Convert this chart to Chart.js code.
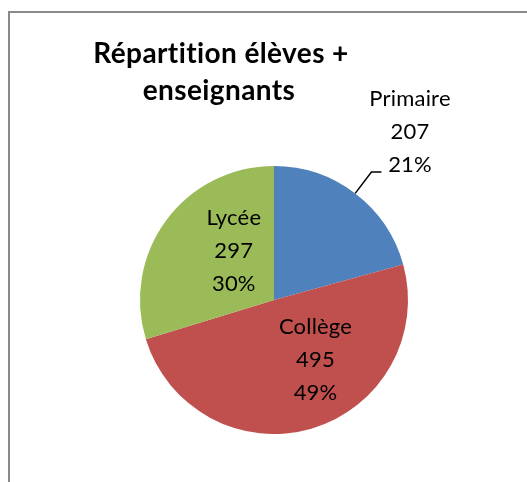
<!DOCTYPE html>
<html>
<head>
<meta charset="utf-8">
<script src="https://cdn.jsdelivr.net/npm/chart.js@4"></script>
<style>
  html, body { margin: 0; padding: 0; background: #fff; }
  #wrap { position: relative; width: 527px; height: 482px; }
</style>
</head>
<body>
<div id="wrap"><canvas id="pieChart" width="527" height="482"></canvas></div>
<script>
// donnees du graphique
const categories = ['Primaire', 'Collège', 'Lycée'];
const effectifs = [207, 495, 297];
const pourcentages = ['21%', '49%', '30%'];
const titre = ['Répartition élèves +', 'enseignants'];
const couleurs = ['#4F81BD', '#C0504D', '#9BBB59'];

// position des etiquettes (en rayons, par rapport au centre)
const posEtiquettes = [
    { dx: 1.015, dy: -1.2, dehors: true },
    { dx: 0.31, dy: 0.50 },
    { dx: -0.30, dy: -0.31 }
];

const cadreEtTexte = {
    id: 'cadreEtTexte',
    beforeDraw(chart) {
        const ctx = chart.ctx;
        ctx.save();
        ctx.strokeStyle = '#8a8a8a';
        ctx.lineWidth = 2;
        ctx.beginPath();
        ctx.moveTo(9, 482);
        ctx.lineTo(9, 12);
        ctx.lineTo(527, 12);
        ctx.stroke();
        ctx.restore();
    },
    afterDatasetsDraw(chart) {
        const ctx = chart.ctx;
        const meta = chart.getDatasetMeta(0);
        ctx.save();
        ctx.fillStyle = '#000';
        ctx.textAlign = 'center';
        ctx.textBaseline = 'alphabetic';

        // titre
        ctx.font = 'bold 28px Lato';
        ctx.letterSpacing = '0.4px';
        ctx.fillText(titre[0], 221, 63);
        ctx.fillText(titre[1], 219, 100);

        ctx.font = '22px Lato';
        ctx.letterSpacing = '0.2px';
        meta.data.forEach((arc, i) => {
            const p = arc.getProps(['x', 'y', 'startAngle', 'endAngle', 'outerRadius'], true);
            const r = p.outerRadius;
            const pos = posEtiquettes[i];
            const tx = p.x + pos.dx * r;
            const ty = p.y + pos.dy * r;
            if (pos.dehors) {
                const mid = (p.startAngle + p.endAngle) / 2;
                const x1 = p.x + Math.cos(mid) * r, y1 = p.y + Math.sin(mid) * r;
                const x2 = p.x + Math.cos(mid) * r * 1.2, y2 = p.y + Math.sin(mid) * r * 1.2;
                ctx.strokeStyle = '#000';
                ctx.lineWidth = 1.5;
                ctx.beginPath();
                ctx.moveTo(x1, y1);
                ctx.lineTo(x2, y2);
                ctx.lineTo(x2 + 10, y2);
                ctx.stroke();
            }
            ctx.fillText(categories[i], tx, ty - 33);
            ctx.fillText(String(effectifs[i]), tx, ty);
            ctx.fillText(pourcentages[i], tx, ty + 33);
        });
        ctx.restore();
    }
};

new Chart(document.getElementById('pieChart'), {
    type: 'pie',
    data: {
        labels: categories,
        datasets: [{
            data: effectifs,
            backgroundColor: couleurs,
            borderWidth: 0
        }]
    },
    options: {
        responsive: false,
        animation: false,
        layout: { padding: { left: 140, right: 119, top: 166, bottom: 48 } },
        plugins: {
            legend: { display: false },
            tooltip: { enabled: false },
            title: { display: false }
        }
    },
    plugins: [cadreEtTexte]
});
</script>
</body>
</html>
